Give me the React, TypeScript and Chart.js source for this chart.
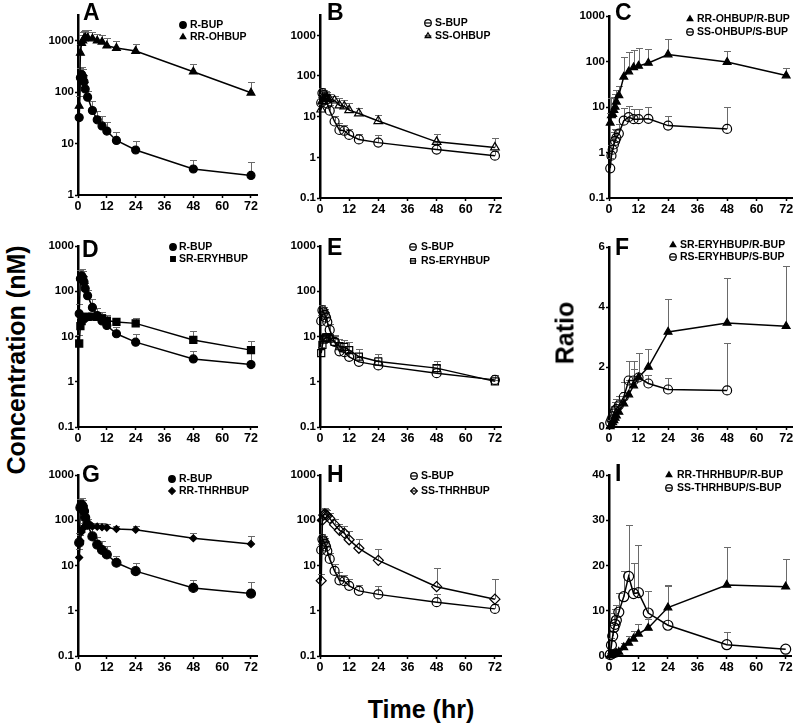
import React, { useEffect, useRef } from 'react';
import { Chart, registerables } from 'chart.js';
Chart.register(...registerables);

// ---------- data ----------
const TIME = [0.5, 1, 1.5, 2, 2.5, 3, 4, 6, 8, 10, 12, 16, 24, 48, 72];
const X_TICKS = [0, 12, 24, 36, 48, 60, 72];
const LOG_TICKS_A = [1, 10, 100, 1000];
const LOG_TICKS = [0.1, 1, 10, 100, 1000];
const F_TICKS = [0, 2, 4, 6];
const I_TICKS = [0, 10, 20, 30, 40];

const R_BUP = [32, 190, 220, 200, 160, 115, 80, 44, 29, 22, 17.5, 11.5, 7.5, 3.2, 2.4];
const R_BUP_SD = [20, 100, 90, 80, 60, 40, 25, 22, 14, 12, 9, 5, 3.8, 1.5, 1.9];
const RR_OHBUP = [54, 580, 900, 1000, 1100, 1150, 1150, 1100, 1000, 950, 800, 720, 630, 250, 97];
const RR_OHBUP_SD = [30, 300, 400, 450, 450, 480, 500, 350, 330, 350, 320, 250, 230, 100, 58];

const S_BUP = [22, 38, 34, 30, 26, 21, 14, 7.6, 4.7, 4.5, 3.55, 2.75, 2.3, 1.55, 1.1];
const S_BUP_SD = [8, 12, 12, 10, 8, 6, 5, 3, 2.4, 1.6, 1.4, 0.9, 1.3, 0.8, 0.3];
const SS_OHBUP = [15, 24, 27, 28, 28, 28, 27, 25, 19, 18, 14.5, 12, 7.8, 2.4, 1.75];
const SS_OHBUP_SD = [6, 12, 14, 15, 14, 13, 10, 7, 10, 8, 7, 4.5, 3, 1.3, 1.3];

const RR_OH_R = [4.5, 6.5, 7, 8.5, 10, 13, 18, 46, 60, 74, 80, 93, 142, 97, 49];
const RR_OH_R_SD = [3, 9, 9, 8, 9, 11, 11, 78, 100, 105, 115, 100, 165, 77, 22];
const SS_OH_S = [0.45, 0.85, 1.15, 1.5, 1.8, 2.1, 2.6, 5, 6, 5.4, 5.4, 5.5, 3.9, 3.3];
const SS_OH_S_SD = [0.3, 0.6, 1, 1.3, 1.5, 1.1, 1.7, 4.5, 4.3, 3.8, 3.8, 4.5, 2.3, 6.5];

const SR_ERYHBUP = [7, 17, 22, 25, 26, 27, 27, 27.5, 27, 25, 22.5, 21, 19.5, 8.4, 5];
const SR_ERYHBUP_SD = [4, 8, 8, 7, 6, 6, 6, 6, 6, 6, 7, 4.5, 5.5, 4.5, 3.1];
const RS_ERYHBUP = [4.3, 6.5, 8.5, 9, 9.5, 9.5, 9, 7.6, 6.1, 5.9, 5, 3.6, 2.8, 2.0, 1.02];
const RS_ERYHBUP_SD = [1.5, 2, 2, 2, 2, 2.2, 2.2, 2.5, 2.5, 2.6, 2.5, 1.6, 1.3, 0.9, 0.1];

const SR_ERY_R = [0.02, 0.08, 0.15, 0.22, 0.3, 0.38, 0.5, 0.78, 1.08, 1.38, 1.65, 2.0, 3.17, 3.47, 3.36];
const SR_ERY_R_SD = [0.05, 0.1, 0.15, 0.2, 0.25, 0.3, 0.35, 0.4, 0.5, 0.55, 0.8, 0.6, 1.1, 1.5, 2.0];
const RS_ERY_S = [0.15, 0.25, 0.35, 0.45, 0.55, 0.6, 0.72, 1.0, 1.55, 1.55, 1.65, 1.45, 1.25, 1.22];
const RS_ERY_S_SD = [0.1, 0.15, 0.2, 0.25, 0.3, 0.35, 0.3, 0.5, 0.64, 0.64, 0.8, 0.3, 0.4, 1.58];

const RR_THRHBUP = [15, 35, 55, 65, 70, 75, 78, 73, 72, 70, 69, 64, 62, 40, 30];
const RR_THRHBUP_SD = [8, 12, 15, 15, 15, 15, 15, 14, 14, 15, 15, 12, 13, 12, 15];
const SS_THRHBUP = [4.6, 100, 130, 138, 132, 125, 110, 80, 60, 52, 37, 24, 13, 3.4, 1.8];
const SS_THRHBUP_SD = [2, 40, 50, 50, 45, 40, 35, 25, 24, 23, 20, 15, 10.6, 5.5, 3.2];

const RR_THR_R = [0.1, 0.2, 0.3, 0.4, 0.5, 0.6, 0.9, 1.9, 2.9, 3.8, 4.9, 6.2, 10.7, 15.7, 15.3];
const RR_THR_R_SD = [0.1, 0.2, 0.2, 0.3, 0.3, 0.4, 0.5, 0.9, 1.6, 1.8, 2.2, 1.9, 4.9, 8.3, 6.2];
const SS_THR_S = [0.3, 2.4, 4.4, 6.3, 7, 7.9, 9.7, 13.1, 17.6, 13.8, 14, 9.5, 6.8, 2.5, 1.5];
const SS_THR_S_SD = [0.3, 1.5, 2.5, 3.1, 3.3, 3.4, 4.2, 5.7, 11.4, 6.8, 10.6, 4.8, 8.7, 2.8, 0];

// ---------- styling / layout ----------
const FONT = '"Liberation Sans", Arial, Helvetica, sans-serif';
const YW = 45;
const XH = 22;
const PAD_T = 14;

type Shape = 'circle' | 'triangle' | 'rect' | 'rectRot';
interface Series { label: string; values: number[]; sd: number[]; shape: Shape; filled: boolean; r: number; }
interface PanelDef {
  letter: string; letterX: number; letterY: number;
  L: number; R: number; T: number; B: number; padR: number;
  yType: 'logarithmic' | 'linear'; yMin: number; yMax: number; yTicks: number[];
  series: Series[];
  legX: number; legTX: number; legY: number[];
}

const s = (label: string, values: number[], sd: number[], shape: Shape, filled: boolean, r: number): Series =>
  ({ label, values, sd, shape, filled, r });

const PANELS: PanelDef[] = [
  { letter: 'A', letterX: 83, letterY: 20, L: 78, R: 257, T: 15, B: 195, padR: 8,
    yType: 'logarithmic', yMin: 1, yMax: 3162, yTicks: LOG_TICKS_A,
    series: [s('R-BUP', R_BUP, R_BUP_SD, 'circle', true, 4), s('RR-OHBUP', RR_OHBUP, RR_OHBUP_SD, 'triangle', true, 4.5)],
    legX: 183, legTX: 190, legY: [25, 37] },
  { letter: 'B', letterX: 327, letterY: 20, L: 320, R: 501, T: 15, B: 198, padR: 8,
    yType: 'logarithmic', yMin: 0.1, yMax: 3162, yTicks: LOG_TICKS,
    series: [s('S-BUP', S_BUP, S_BUP_SD, 'circle', false, 4.5), s('SS-OHBUP', SS_OHBUP, SS_OHBUP_SD, 'triangle', false, 5)],
    legX: 428, legTX: 435, legY: [23, 36] },
  { letter: 'C', letterX: 615, letterY: 20, L: 609, R: 797, T: 16, B: 198, padR: 1,
    yType: 'logarithmic', yMin: 0.1, yMax: 1000, yTicks: LOG_TICKS,
    series: [s('RR-OHBUP/R-BUP', RR_OH_R, RR_OH_R_SD, 'triangle', true, 4.5), s('SS-OHBUP/S-BUP', SS_OH_S, SS_OH_S_SD, 'circle', false, 4.5)],
    legX: 690, legTX: 697, legY: [19, 32] },
  { letter: 'D', letterX: 82, letterY: 257, L: 78, R: 257, T: 246, B: 427, padR: 8,
    yType: 'logarithmic', yMin: 0.1, yMax: 1000, yTicks: LOG_TICKS,
    series: [s('R-BUP', R_BUP, R_BUP_SD, 'circle', true, 4), s('SR-ERYHBUP', SR_ERYHBUP, SR_ERYHBUP_SD, 'rect', true, 5)],
    legX: 173, legTX: 179, legY: [247, 259] },
  { letter: 'E', letterX: 327, letterY: 255, L: 320, R: 501, T: 246, B: 427, padR: 8,
    yType: 'logarithmic', yMin: 0.1, yMax: 1000, yTicks: LOG_TICKS,
    series: [s('S-BUP', S_BUP, S_BUP_SD, 'circle', false, 4.5), s('RS-ERYHBUP', RS_ERYHBUP, RS_ERYHBUP_SD, 'rect', false, 5)],
    legX: 413, legTX: 421, legY: [247, 261] },
  { letter: 'F', letterX: 615, letterY: 255, L: 609, R: 797, T: 247, B: 427, padR: 1,
    yType: 'linear', yMin: 0, yMax: 6, yTicks: F_TICKS,
    series: [s('SR-ERYHBUP/R-BUP', SR_ERY_R, SR_ERY_R_SD, 'triangle', true, 4.5), s('RS-ERYHBUP/S-BUP', RS_ERY_S, RS_ERY_S_SD, 'circle', false, 4.5)],
    legX: 673, legTX: 680, legY: [245, 257] },
  { letter: 'G', letterX: 82, letterY: 482, L: 78, R: 257, T: 475, B: 656, padR: 8,
    yType: 'logarithmic', yMin: 0.1, yMax: 1000, yTicks: LOG_TICKS,
    series: [s('R-BUP', R_BUP, R_BUP_SD, 'circle', true, 4.5), s('RR-THRHBUP', RR_THRHBUP, RR_THRHBUP_SD, 'rectRot', true, 3.5)],
    legX: 172, legTX: 179, legY: [479, 491] },
  { letter: 'H', letterX: 327, letterY: 482, L: 320, R: 501, T: 475, B: 656, padR: 8,
    yType: 'logarithmic', yMin: 0.1, yMax: 1000, yTicks: LOG_TICKS,
    series: [s('S-BUP', S_BUP, S_BUP_SD, 'circle', false, 4.5), s('SS-THRHBUP', SS_THRHBUP, SS_THRHBUP_SD, 'rectRot', false, 5)],
    legX: 414, legTX: 421, legY: [476, 491] },
  { letter: 'I', letterX: 615, letterY: 481, L: 609, R: 797, T: 475, B: 656, padR: 1,
    yType: 'linear', yMin: 0, yMax: 40, yTicks: I_TICKS,
    series: [s('RR-THRHBUP/R-BUP', RR_THR_R, RR_THR_R_SD, 'triangle', true, 4.5), s('SS-THRHBUP/S-BUP', SS_THR_S, SS_THR_S_SD, 'circle', false, 5)],
    legX: 669, legTX: 677, legY: [475, 488] },
];

function drawMarker(ctx: CanvasRenderingContext2D, shape: Shape, x: number, y: number, r: number, filled: boolean) {
  ctx.beginPath();
  if (shape === 'circle') {
    ctx.arc(x, y, r, 0, Math.PI * 2);
  } else if (shape === 'triangle') {
    for (let k = 0; k < 3; k++) {
      const a = (k * 2 * Math.PI) / 3;
      const px = x + Math.sin(a) * r, py = y - Math.cos(a) * r;
      if (k === 0) ctx.moveTo(px, py); else ctx.lineTo(px, py);
    }
    ctx.closePath();
  } else if (shape === 'rect') {
    const h = r * Math.SQRT1_2;
    ctx.rect(x - h, y - h, 2 * h, 2 * h);
  } else {
    ctx.moveTo(x, y - r); ctx.lineTo(x + r, y); ctx.lineTo(x, y + r); ctx.lineTo(x - r, y); ctx.closePath();
  }
  if (filled) { ctx.fillStyle = '#000'; ctx.fill(); }
  ctx.lineWidth = 1.2; ctx.strokeStyle = '#000'; ctx.stroke();
  if (!filled) {
    ctx.beginPath(); ctx.moveTo(x - r, y); ctx.lineTo(x + r, y); ctx.stroke();
  }
}

const errorBars = {
  id: 'errorBars',
  beforeDatasetsDraw(chart: any) {
    const ctx = chart.ctx as CanvasRenderingContext2D;
    const ys = chart.scales.y;
    ctx.save();
    ctx.strokeStyle = '#6a6a6a';
    ctx.lineWidth = 1;
    chart.data.datasets.forEach((d: any, i: number) => {
      const meta = chart.getDatasetMeta(i);
      meta.data.forEach((el: any, j: number) => {
        const e = d.errs ? d.errs[j] : 0;
        if (!e) return;
        const v = d.data[j].y;
        const x = Math.round(el.x) + 0.5;
        const yTop = Math.round(ys.getPixelForValue(v + e)) + 0.5;
        ctx.beginPath();
        ctx.moveTo(x, el.y);
        ctx.lineTo(x, yTop);
        ctx.moveTo(x - 3.5, yTop);
        ctx.lineTo(x + 3.5, yTop);
        ctx.stroke();
      });
    });
    ctx.restore();
  },
};

function makeDeco(p: PanelDef, ox: number, oy: number) {
  return {
    id: 'deco',
    afterDraw(chart: any) {
      const ctx = chart.ctx as CanvasRenderingContext2D;
      ctx.save();
      ctx.fillStyle = '#000';
      ctx.font = `bold 23px ${FONT}`;
      ctx.textBaseline = 'alphabetic';
      ctx.textAlign = 'left';
      ctx.fillText(p.letter, p.letterX - ox, p.letterY - oy);
      ctx.font = `bold 10.5px ${FONT}`;
      ctx.textBaseline = 'middle';
      p.series.forEach((se, k) => {
        const y = p.legY[k] - oy;
        drawMarker(ctx, se.shape, p.legX - ox, y, 3.3, se.filled);
        ctx.fillStyle = '#000';
        ctx.fillText(se.label, p.legTX - ox, y + 0.5);
      });
      ctx.restore();
    },
  };
}

function Panel({ p }: { p: PanelDef }) {
  const ref = useRef<HTMLCanvasElement>(null);
  const left = p.L - YW;
  const top = p.T - PAD_T;
  const w = p.R - p.L + YW + p.padR;
  const h = p.B - p.T + PAD_T + XH;

  useEffect(() => {
    if (!ref.current) return;
    const xFont = { family: FONT, size: 12.5, weight: 'bold' as const };
    const yFont = { family: FONT, size: 11.5, weight: 'bold' as const };
    const datasets = p.series.map((se) => ({
      label: se.label,
      data: se.values.map((v, i) => ({ x: TIME[i], y: v })),
      errs: se.sd,
      borderColor: '#000',
      borderWidth: 1.5,
      pointStyle: se.shape,
      pointRadius: se.r,
      pointHoverRadius: se.r,
      pointBorderWidth: 1.2,
      pointBorderColor: '#000',
      pointBackgroundColor: se.filled ? '#000' : 'rgba(0,0,0,0)',
      fill: false,
      tension: 0,
      clip: false,
    }));
    const chart = new Chart(ref.current, {
      type: 'line',
      data: { datasets } as any,
      options: {
        animation: false,
        responsive: false,
        devicePixelRatio: 1,
        parsing: false as any,
        layout: { padding: { top: PAD_T, right: p.padR, left: 0, bottom: 0 } },
        plugins: { legend: { display: false }, tooltip: { enabled: false } },
        events: [],
        scales: {
          x: {
            type: 'linear',
            min: 0,
            max: 74.5,
            afterBuildTicks: (sc: any) => { sc.ticks = X_TICKS.map((v) => ({ value: v })); },
            afterFit: (sc: any) => { sc.height = XH; sc.paddingLeft = 0; sc.paddingRight = 0; },
            grid: { display: true, drawOnChartArea: false, drawTicks: true, tickLength: 3, tickColor: '#000', tickWidth: 1.5, color: '#000' },
            border: { display: true, color: '#000', width: 2 },
            ticks: { color: '#000', font: xFont, padding: 1, maxRotation: 0, autoSkip: false, callback: (v: any) => String(v) },
          },
          y: {
            type: p.yType,
            min: p.yMin,
            max: p.yMax,
            afterBuildTicks: (sc: any) => { sc.ticks = p.yTicks.map((v) => ({ value: v })); },
            afterFit: (sc: any) => { sc.width = YW; sc.paddingTop = 0; sc.paddingBottom = 0; },
            grid: { display: true, drawOnChartArea: false, drawTicks: true, tickLength: 3, tickColor: '#000', tickWidth: 1.5, color: '#000' },
            border: { display: true, color: '#000', width: 2.5 },
            ticks: { color: '#000', font: yFont, padding: 1, autoSkip: false, callback: (v: any) => String(v) },
          },
        },
      } as any,
      plugins: [errorBars, makeDeco(p, left, top)],
    });
    return () => chart.destroy();
  }, []);

  return (
    <canvas
      ref={ref}
      width={w}
      height={h}
      style={{ position: 'absolute', left, top, width: w, height: h }}
    />
  );
}

const bigLabel: React.CSSProperties = {
  position: 'absolute',
  fontFamily: FONT,
  fontWeight: 'bold',
  fontSize: 25,
  color: '#000',
  whiteSpace: 'nowrap',
  lineHeight: 1,
};

export default function App() {
  return (
    <div style={{ position: 'absolute', left: 0, top: 0, width: 798, height: 724, overflow: 'hidden', background: '#fff' }}>
      {PANELS.map((p) => <Panel key={p.letter} p={p} />)}
      <div style={{ ...bigLabel, left: 16, top: 360, transform: 'translate(-50%, -50%) rotate(-90deg)' }}>Concentration (nM)</div>
      <div style={{ ...bigLabel, left: 565, top: 333, transform: 'translate(-50%, -50%) rotate(-90deg)' }}>Ratio</div>
      <div style={{ ...bigLabel, left: 421, top: 709, transform: 'translate(-50%, -50%)' }}>Time (hr)</div>
    </div>
  );
}
